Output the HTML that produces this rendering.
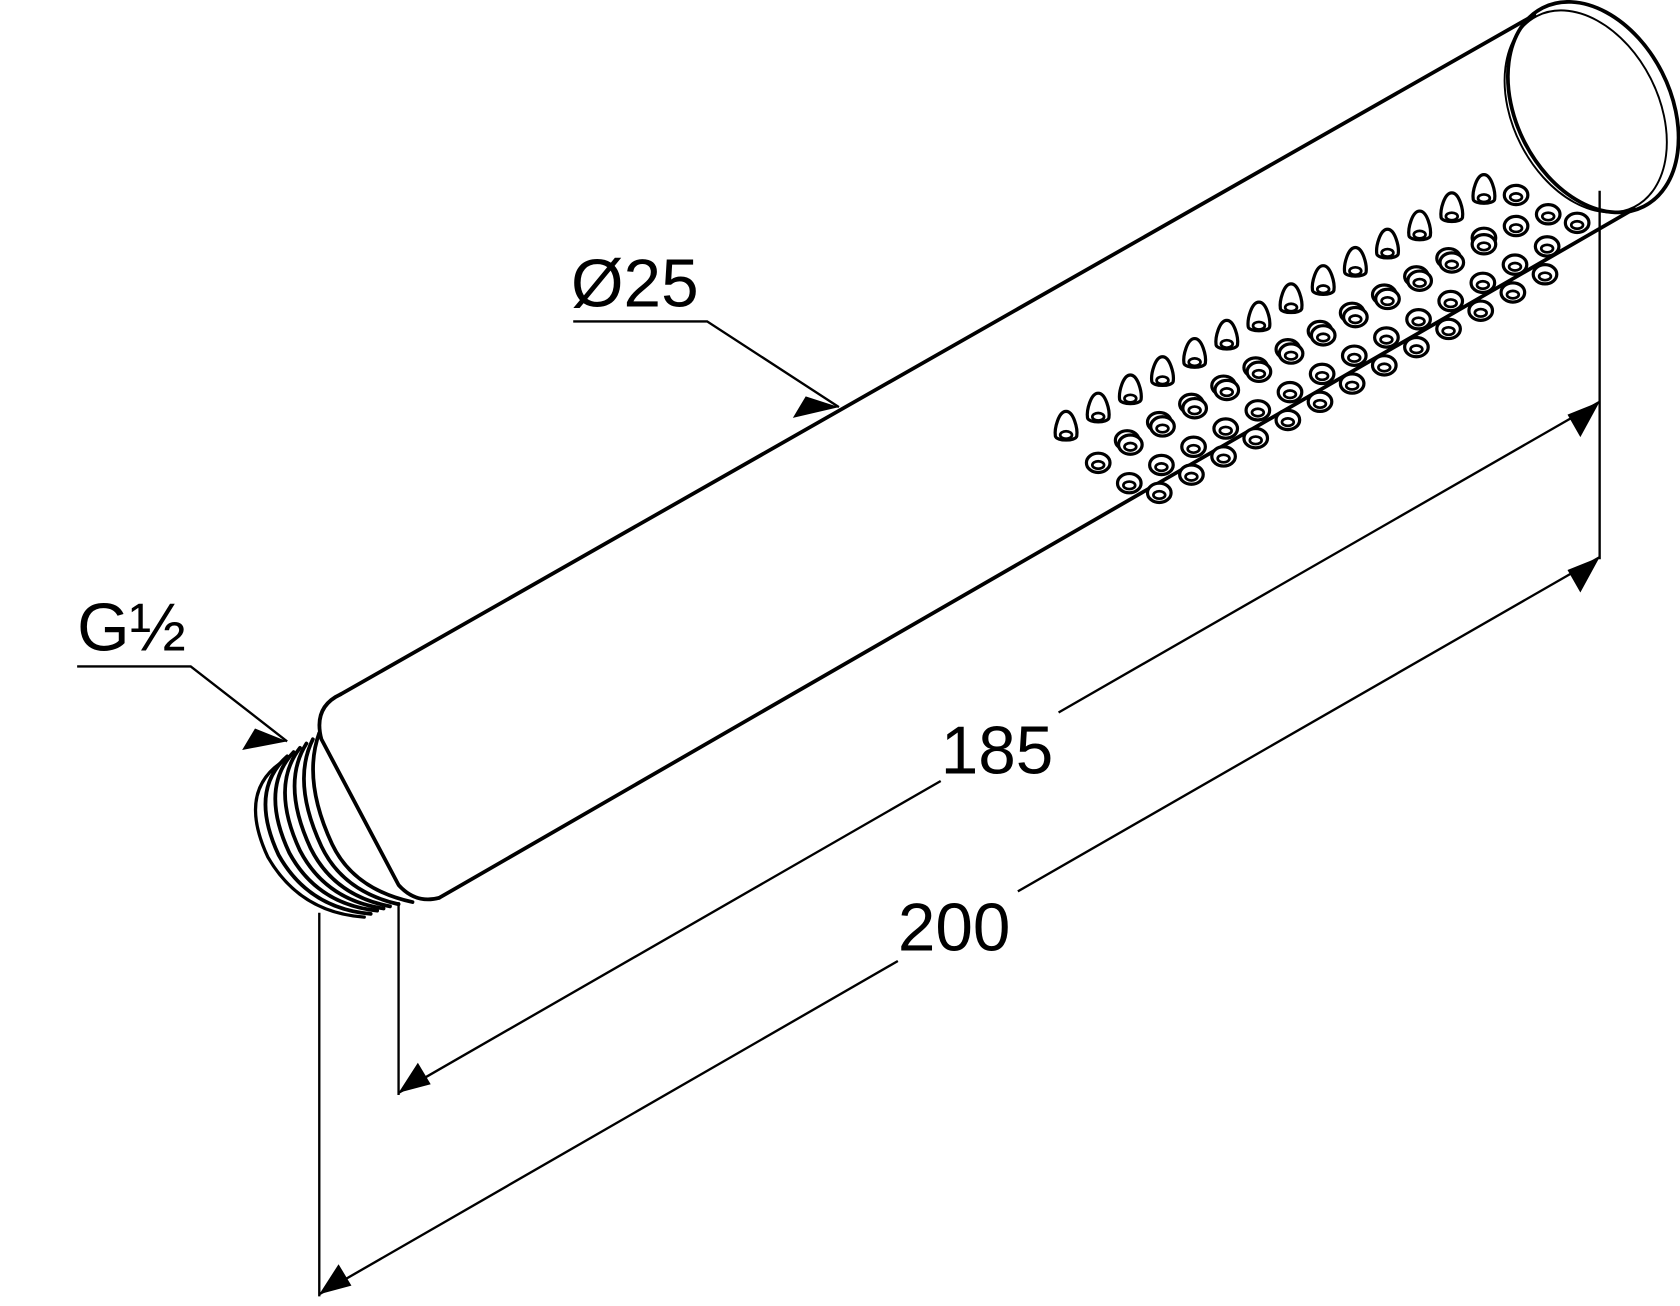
<!DOCTYPE html>
<html><head><style>html,body{margin:0;padding:0;background:#fff}svg{display:block}</style></head>
<body>
<svg width="1680" height="1306" viewBox="0 0 1568 1219" preserveAspectRatio="none" xmlns="http://www.w3.org/2000/svg">
<defs>
<g id="tear"><path d="M0,-16 C7,-16 11,0 10,7 C9,12 -9,12 -10,7 C-11,0 -7,-16 0,-16 Z" fill="#fff" stroke="#000" stroke-width="3"/><ellipse cx="0" cy="6" rx="5.5" ry="3.5" fill="none" stroke="#000" stroke-width="2.5"/></g>
<g id="dot"><ellipse cx="0" cy="0" rx="11" ry="9" fill="#fff" stroke="#000" stroke-width="3"/><ellipse cx="0" cy="2" rx="5.5" ry="3.5" fill="none" stroke="#000" stroke-width="2.5"/></g>
</defs>
<g fill="none" stroke="#000" stroke-width="3.5" stroke-linecap="round">
<path d="M318,648 L1432,14"/>
<path d="M410,838 L1525,195"/>
<path d="M318,648 Q292,660 300,690 L372,826 Q388,844 410,838"/>
<ellipse cx="1487" cy="100" rx="72" ry="104" transform="rotate(-27 1487 100)"/>
<ellipse cx="1480" cy="104" rx="68" ry="100" transform="rotate(-27 1480 104)" stroke-width="1.8"/>
<path d="M262,712 Q222,740 250,800 Q280,852 340,856" stroke-width="3"/>
<path d="M268,706 Q232,738 260,798 Q288,848 346,853" stroke-width="3.5"/>
<path d="M274,702 Q242,736 270,796 Q296,844 352,850" stroke-width="3.5"/>
<path d="M280,698 Q252,734 280,794 Q304,840 358,848" stroke-width="3.5"/>
<path d="M286,694 Q262,732 290,792 Q312,836 364,846" stroke-width="3.5"/>
<path d="M292,690 Q272,730 300,790 Q320,832 372,844" stroke-width="3.5"/>
<path d="M298,684 Q282,728 310,788 Q330,830 385,842" stroke-width="3.5"/>
</g>
<g>
<use href="#tear" x="995" y="400"/><use href="#tear" x="1025" y="383"/><use href="#tear" x="1055" y="366"/><use href="#tear" x="1085" y="349"/><use href="#tear" x="1115" y="332"/><use href="#tear" x="1145" y="315"/><use href="#tear" x="1175" y="298"/><use href="#tear" x="1205" y="281"/><use href="#tear" x="1235" y="264"/><use href="#tear" x="1265" y="247"/><use href="#tear" x="1295" y="230"/><use href="#tear" x="1325" y="213"/><use href="#tear" x="1355" y="196"/><use href="#tear" x="1385" y="179"/>
<use href="#dot" x="1052" y="411"/><use href="#dot" x="1082" y="394"/><use href="#dot" x="1112" y="377"/><use href="#dot" x="1142" y="360"/><use href="#dot" x="1172" y="343"/><use href="#dot" x="1202" y="326"/><use href="#dot" x="1232" y="309"/><use href="#dot" x="1262" y="292"/><use href="#dot" x="1292" y="275"/><use href="#dot" x="1322" y="258"/><use href="#dot" x="1352" y="241"/><use href="#dot" x="1385" y="222"/><use href="#dot" x="1415" y="182"/>
<use href="#dot" x="1025" y="432"/><use href="#dot" x="1055" y="415"/><use href="#dot" x="1085" y="398"/><use href="#dot" x="1115" y="381"/><use href="#dot" x="1145" y="364"/><use href="#dot" x="1175" y="347"/><use href="#dot" x="1205" y="330"/><use href="#dot" x="1235" y="313"/><use href="#dot" x="1265" y="296"/><use href="#dot" x="1295" y="279"/><use href="#dot" x="1325" y="262"/><use href="#dot" x="1355" y="245"/><use href="#dot" x="1385" y="228"/><use href="#dot" x="1415" y="211"/><use href="#dot" x="1445" y="200"/>
<use href="#dot" x="1054" y="451"/><use href="#dot" x="1084" y="434"/><use href="#dot" x="1114" y="417"/><use href="#dot" x="1144" y="400"/><use href="#dot" x="1174" y="383"/><use href="#dot" x="1204" y="366"/><use href="#dot" x="1234" y="349"/><use href="#dot" x="1264" y="332"/><use href="#dot" x="1294" y="315"/><use href="#dot" x="1324" y="298"/><use href="#dot" x="1354" y="281"/><use href="#dot" x="1384" y="264"/><use href="#dot" x="1414" y="247"/><use href="#dot" x="1444" y="230"/><use href="#dot" x="1472" y="208"/>
<use href="#dot" x="1082" y="460"/><use href="#dot" x="1112" y="443"/><use href="#dot" x="1142" y="426"/><use href="#dot" x="1172" y="409"/><use href="#dot" x="1202" y="392"/><use href="#dot" x="1232" y="375"/><use href="#dot" x="1262" y="358"/><use href="#dot" x="1292" y="341"/><use href="#dot" x="1322" y="324"/><use href="#dot" x="1352" y="307"/><use href="#dot" x="1382" y="290"/><use href="#dot" x="1412" y="273"/><use href="#dot" x="1442" y="256"/>
</g>
<g stroke="#000" stroke-width="2.2" fill="none">
<path d="M372,842 V1022"/><path d="M1493,178 V522"/><path d="M298,852 V1210"/>
<path d="M372,1020 L878,729"/><path d="M988,665 L1493,375"/>
<path d="M298,1208 L838,897"/><path d="M950,832 L1493,520"/>
<path d="M535,300 H660 L783,380"/>
<path d="M72,622 H178 L268,692"/>
</g>
<g fill="#000">
<polygon points="372,1020 390,992 402,1012"/>
<polygon points="1493,375 1463,387 1475,408"/>
<polygon points="298,1208 316,1180 328,1200"/>
<polygon points="1493,520 1463,532 1475,553"/>
<polygon points="783,380 752,370 740,390"/>
<polygon points="268,692 238,680 226,700"/>
</g>
<g font-family="Liberation Sans, sans-serif" font-size="63" fill="#000">
<text x="533" y="286">Ø25</text>
<text x="72" y="607">G½</text>
<text x="878" y="722">185</text>
<text x="838" y="887">200</text>
</g>
</svg>
</body></html>
